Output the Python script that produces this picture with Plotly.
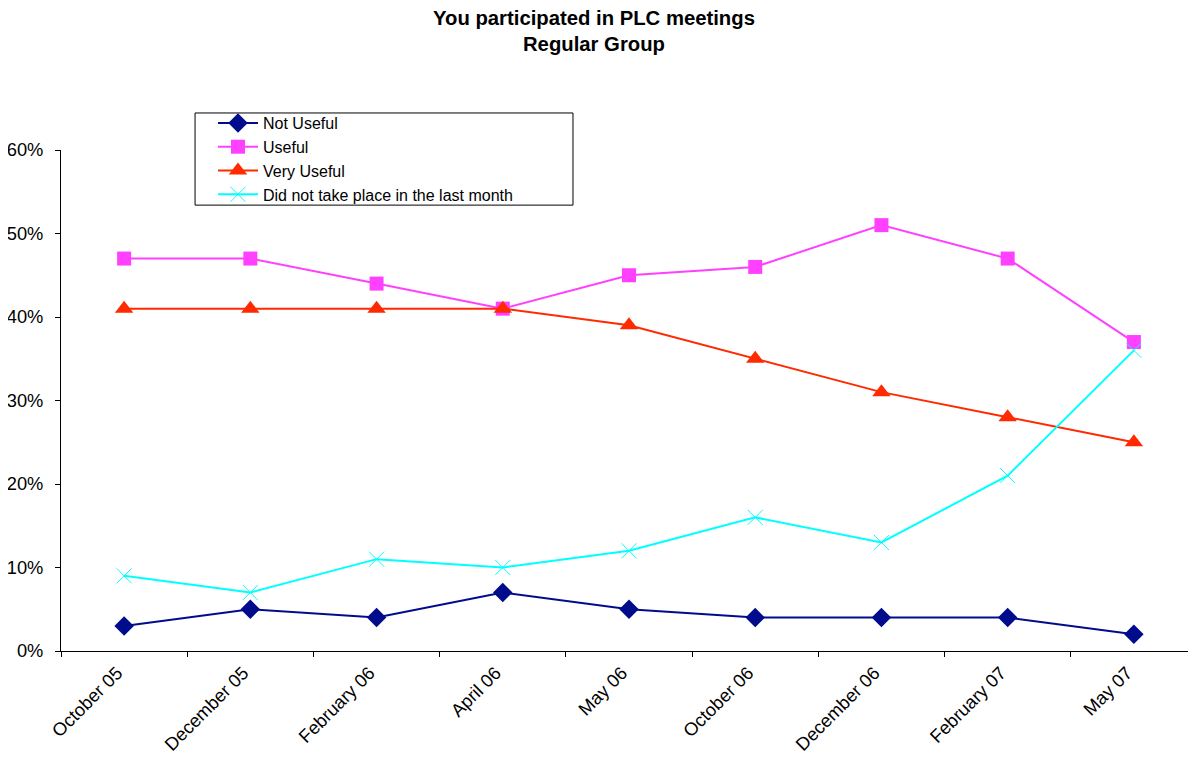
import plotly.graph_objects as go

categories = ["October 05", "December 05", "February 06", "April 06", "May 06",
              "October 06", "December 06", "February 07", "May 07"]
not_useful = [0.03, 0.05, 0.04, 0.07, 0.05, 0.04, 0.04, 0.04, 0.02]
useful = [0.47, 0.47, 0.44, 0.41, 0.45, 0.46, 0.51, 0.47, 0.37]
very_useful = [0.41, 0.41, 0.41, 0.41, 0.39, 0.35, 0.31, 0.28, 0.25]
did_not_take_place = [0.09, 0.07, 0.11, 0.10, 0.12, 0.16, 0.13, 0.21, 0.36]
y_ticks = [0, 0.1, 0.2, 0.3, 0.4, 0.5, 0.6]
y_tick_labels = ["0%", "10%", "20%", "30%", "40%", "50%", "60%"]
title_text = "<b>You participated in PLC meetings<br>Regular Group</b>"

FONT = "Liberation Sans, Arial, sans-serif"

fig = go.Figure()
fig.add_trace(go.Scatter(x=categories, y=not_useful, name="Not Useful", mode="lines+markers",
                         line=dict(color="#000C8C", width=2),
                         marker=dict(symbol="diamond", size=15, color="#000C8C")))
fig.add_trace(go.Scatter(x=categories, y=useful, name="Useful", mode="lines+markers",
                         line=dict(color="#FF40FF", width=2),
                         marker=dict(symbol="square", size=14, color="#FF40FF")))
fig.add_trace(go.Scatter(x=categories, y=very_useful, name="Very Useful", mode="lines+markers",
                         line=dict(color="#FF2A00", width=2),
                         marker=dict(symbol="triangle-up", size=16, color="#FF2A00")))
fig.add_trace(go.Scatter(x=categories, y=did_not_take_place, name="Did not take place in the last month",
                         mode="lines+markers",
                         line=dict(color="#00FFFF", width=2),
                         marker=dict(symbol="x-thin", size=15, line=dict(color="#00FFFF", width=1))))

fig.add_annotation(text=title_text, xref="paper", yref="paper", x=0.469, y=1.289,
                   xanchor="center", yanchor="top", showarrow=False,
                   font=dict(size=20.3, family=FONT, color="black"))

# legend frame
fig.add_shape(type="rect", xref="paper", yref="paper", x0=0.118, x1=0.4507,
              y0=0.890, y1=1.0739, line=dict(color="black", width=1),
              fillcolor="white", layer="below")

fig.update_layout(
    width=1196, height=766,
    paper_bgcolor="white", plot_bgcolor="rgba(0,0,0,0)",
    font=dict(family=FONT, size=17, color="black"),
    margin=dict(l=53, r=7, t=142, b=123, autoexpand=False),
    showlegend=True,
    legend=dict(x=0.1338, y=1.0878, xanchor="left", yanchor="top",
                borderwidth=0, bgcolor="rgba(0,0,0,0)",
                font=dict(size=16), tracegroupgap=0, itemwidth=40),
    xaxis=dict(type="category", range=[-0.5, 8.5], tickangle=-45,
               showline=True, linecolor="black", linewidth=1,
               ticks="outside", ticklen=5, tickcolor="black", tickson="boundaries",
               showgrid=False, tickfont=dict(size=18.3), automargin=False,
               ticklabelshift=-7, ticklabelstandoff=3),
    yaxis=dict(range=[0, 0.6], tickvals=y_ticks, ticktext=y_tick_labels,
               showline=True, linecolor="black", linewidth=1,
               ticks="outside", ticklen=5, tickcolor="black",
               showgrid=False, zeroline=False, tickfont=dict(size=18.3),
               automargin=False, ticklabelstandoff=8),
)

fig.write_html("out.html")
